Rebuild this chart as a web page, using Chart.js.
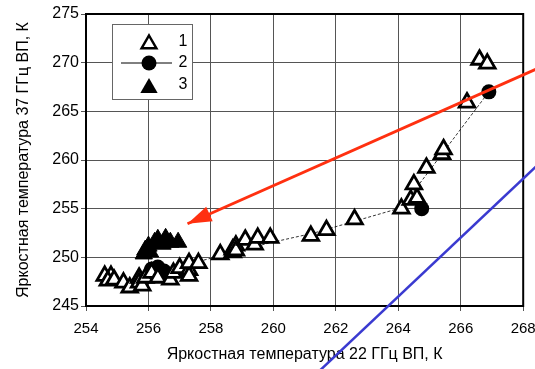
<!DOCTYPE html>
<html>
<head>
<meta charset="utf-8">
<script src="https://cdn.jsdelivr.net/npm/chart.js@4/dist/chart.umd.min.js"></script>
<style>
  html, body { margin: 0; padding: 0; background: #fff; }
  #wrap { width: 535px; height: 369px; }
</style>
</head>
<body>
<div id="wrap"><canvas id="chart" width="535" height="369"></canvas></div>
<script>
/*
** Data
*/
var xTicks = [254, 256, 258, 260, 262, 264, 266, 268];
var yTicks = [245, 250, 255, 260, 265, 270, 275];

// 1 - open triangles
var s1X = [254.6, 254.8, 254.7, 254.9, 255.2, 255.4, 255.7, 255.7, 255.8, 255.9,
           256.1, 256.3, 256.7, 256.8, 257.0, 257.3, 257.3, 257.3, 257.6, 258.3,
           258.7, 258.7, 258.8, 258.8, 259.1, 259.4, 259.5, 259.9, 261.2, 261.7,
           262.6, 264.1, 264.4, 264.6, 264.5, 264.9, 265.4, 265.45, 266.2, 266.6, 266.85];
var s1Y = [248.1, 248.1, 247.6, 247.7, 247.4, 246.9, 247.9, 247.4, 247.1, 247.9,
           248.4, 247.9, 247.7, 248.4, 248.9, 248.7, 248.1, 249.4, 249.4, 250.3,
           250.8, 250.5, 251.2, 250.7, 251.8, 251.3, 252.0, 252.0, 252.2, 252.8,
           253.9, 255.0, 255.9, 256.1, 257.5, 259.2, 260.6, 261.1, 265.9, 270.3, 269.9];

// 2 - filled circles joined by the thin dashed line (null = break)
var s2X = [256.1, 256.3, 256.5, 258.1, 259.9, 261.3, 264.1, 266.9, 265.5, 264.75];
var s2Y = [248.8, 249.0, 248.6, 250.0, 251.5, 252.5, 255.1, 267.0, null, 255.0];
var s2Size = [7.5, 7.5, 7.5, 0, 0, 0, 0, 7.5, 0, 7.5];

// 3 - filled triangles
var s3X = [255.85, 255.9, 256.0, 256.2, 256.3, 256.45, 256.55, 256.7, 256.95, 256.05];
var s3Y = [250.35, 250.75, 251.15, 251.55, 251.85, 251.35, 251.95, 251.55, 251.55, 250.55];

// red arrow (tail, tip) and blue line
var arrowX = [268.6, 257.25];
var arrowY = [269.6, 253.45];
var blueX = [261.3, 268.6];
var blueY = [237.8, 259.9];

var fontFamily = "'Liberation Sans', Arial, sans-serif";
var xFont = { family: fontFamily, size: 15 };
var yFont = { family: fontFamily, size: 16 };

function pts(xs, ys) {
    return xs.map(function (x, i) { return { x: x, y: ys[i] }; });
}

/*
** Frame, arrow head and the legend box
*/
var decor = {
    id: 'decor',
    beforeDatasetsDraw: function (chart) {
        var a = chart.chartArea, ctx = chart.ctx;
        ctx.save();
        ctx.strokeStyle = '#000';
        ctx.lineWidth = 2;
        ctx.strokeRect(a.left, a.top, a.right - a.left, a.bottom - a.top);
        ctx.restore();
    },
    afterDatasetsDraw: function (chart) {
        var ctx = chart.ctx, a = chart.chartArea;
        var xs = chart.scales.x, ys = chart.scales.y;

        // arrow head
        var tx = xs.getPixelForValue(arrowX[1]), ty = ys.getPixelForValue(arrowY[1]);
        var fx = xs.getPixelForValue(arrowX[0]), fy = ys.getPixelForValue(arrowY[0]);
        var ang = Math.atan2(fy - ty, fx - tx);
        var len = 24, half = 8;
        ctx.save();
        ctx.fillStyle = '#ff3010';
        ctx.beginPath();
        ctx.moveTo(tx, ty);
        ctx.lineTo(tx + len * Math.cos(ang) - half * Math.sin(ang), ty + len * Math.sin(ang) + half * Math.cos(ang));
        ctx.lineTo(tx + len * Math.cos(ang) + half * Math.sin(ang), ty + len * Math.sin(ang) - half * Math.cos(ang));
        ctx.closePath();
        ctx.fill();
        ctx.restore();

        // legend
        var bx = a.left + 26, by = a.top + 10, bw = 80, bh = 75;
        var cx = bx + 37;
        ctx.save();
        ctx.fillStyle = '#fff';
        ctx.fillRect(bx, by, bw, bh);
        ctx.strokeStyle = '#666';
        ctx.lineWidth = 1;
        ctx.strokeRect(bx + 0.5, by + 0.5, bw, bh);

        function tri(x, y, r, fill) {
            ctx.beginPath();
            ctx.moveTo(x, y - r);
            ctx.lineTo(x + 0.866 * r, y + 0.5 * r);
            ctx.lineTo(x - 0.866 * r, y + 0.5 * r);
            ctx.closePath();
            if (fill) {
                ctx.fillStyle = '#000';
                ctx.fill();
            } else {
                ctx.fillStyle = '#fff';
                ctx.fill();
                ctx.lineWidth = 2.5;
                ctx.strokeStyle = '#000';
                ctx.stroke();
            }
        }
        tri(cx, by + 20, 8.5, false);
        ctx.strokeStyle = '#000';
        ctx.lineWidth = 1;
        ctx.beginPath();
        ctx.moveTo(bx + 9, by + 39);
        ctx.lineTo(bx + 60, by + 39);
        ctx.stroke();
        ctx.fillStyle = '#000';
        ctx.beginPath();
        ctx.arc(cx, by + 39, 7.5, 0, Math.PI * 2);
        ctx.fill();
        tri(cx, by + 64, 10, true);

        ctx.fillStyle = '#000';
        ctx.font = '16px ' + fontFamily;
        ctx.textAlign = 'center';
        ctx.textBaseline = 'middle';
        ctx.fillText('1', bx + 71, by + 18);
        ctx.fillText('2', bx + 71, by + 39);
        ctx.fillText('3', bx + 71, by + 61);
        ctx.restore();
    }
};

/*
** Build the chart
*/
var chart = new Chart(document.getElementById('chart'), {
    type: 'scatter',
    data: {
        datasets: [
            {
                label: 'arrow',
                data: pts(arrowX, arrowY),
                showLine: true,
                borderColor: '#ff3010',
                borderWidth: 3,
                pointRadius: 0,
                clip: false,
                order: 0
            },
            {
                label: 'blue',
                data: pts(blueX, blueY),
                showLine: true,
                borderColor: '#3a3ad0',
                borderWidth: 2.5,
                pointRadius: 0,
                clip: false,
                order: 1
            },
            {
                label: '3',
                data: pts(s3X, s3Y),
                pointStyle: 'triangle',
                pointRadius: 10,
                backgroundColor: '#000',
                borderColor: '#000',
                borderWidth: 1,
                order: 2
            },
            {
                label: '1',
                data: pts(s1X, s1Y),
                pointStyle: 'triangle',
                pointRadius: 9,
                backgroundColor: '#fff',
                borderColor: '#000',
                borderWidth: 2.8,
                order: 3
            },
            {
                label: '2',
                data: pts(s2X, s2Y),
                showLine: true,
                spanGaps: false,
                borderColor: '#000',
                borderWidth: 0.8,
                borderDash: [3, 2],
                pointRadius: s2Size,
                backgroundColor: '#000',
                pointBorderWidth: 0,
                order: 4
            }
        ]
    },
    options: {
        responsive: false,
        animation: false,
        layout: { padding: { top: 14, right: 11, left: 0, bottom: 0 } },
        plugins: {
            legend: { display: false },
            tooltip: { enabled: false }
        },
        scales: {
            x: {
                type: 'linear',
                min: xTicks[0],
                max: xTicks[xTicks.length - 1],
                afterBuildTicks: function (s) { s.ticks = xTicks.map(function (v) { return { value: v }; }); },
                afterFit: function (s) { s.height = 63; s.paddingRight = 0; s.paddingLeft = 0; },
                grid: { color: '#555', lineWidth: 1, tickLength: 5, drawOnChartArea: true },
                border: { display: true, color: '#000', width: 2 },
                ticks: { color: '#000', font: xFont, padding: 9, maxRotation: 0 },
                title: {
                    display: true,
                    text: 'Яркостная температура 22 ГГц ВП, К',
                    color: '#000',
                    font: yFont,
                    padding: { top: 0, bottom: 5 }
                }
            },
            y: {
                type: 'linear',
                min: yTicks[0],
                max: yTicks[yTicks.length - 1],
                afterBuildTicks: function (s) { s.ticks = yTicks.map(function (v) { return { value: v }; }); },
                afterFit: function (s) { s.width = 86; s.paddingTop = 0; s.paddingBottom = 0; },
                grid: { color: '#555', lineWidth: 1, tickLength: 5 },
                border: { display: true, color: '#000', width: 2 },
                ticks: { color: '#000', font: yFont, padding: 2 },
                title: {
                    display: true,
                    text: 'Яркостная температура 37 ГГц ВП, К',
                    color: '#000',
                    font: yFont,
                    padding: { top: 14, bottom: 0 }
                }
            }
        }
    },
    plugins: [decor]
});
</script>
</body>
</html>
